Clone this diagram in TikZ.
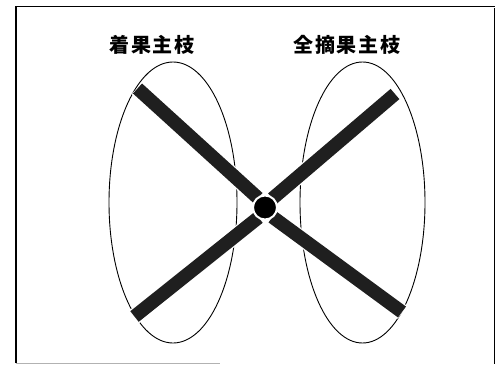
\documentclass[tikz,border=0pt]{standalone}
\usepackage{fontspec}
\newfontfamily\cjk[LetterSpace=8]{Noto Sans CJK JP}
\usetikzlibrary{shapes.geometric,calc}
\tikzset{
  frameline/.style={line width=1.5pt, black},
  oval/.style={ellipse, draw, line width=0.9pt, inner sep=0pt},
  barbg/.style={line width=16pt, white, line cap=butt},
  bar/.style={line width=13.5pt, black!88, line cap=butt},
  label/.style={font=\cjk\bfseries\fontsize{20}{20}\selectfont, inner sep=0pt},
}
\begin{document}
\begin{tikzpicture}[x=1pt,y=-1pt]
\useasboundingbox (0,0) rectangle (497,364);
% frame
\draw[frameline] (16,363) -- (16,6.5) -- (495,6.5);
\draw[frameline] (494.5,8) -- (494.5,364);
\draw[line width=1pt, black!30] (16,363) -- (220,363);
% labels
\node[label] (t1) at (152,44.5) {着果主枝};
\node[label] (t2) at (347,44.5) {全摘果主枝};
% ellipses
\node[oval, minimum width=128pt, minimum height=281pt] (L) at (173,202.5) {};
\node[oval, minimum width=125pt, minimum height=281pt] (R) at (362.5,202.5) {};
% bars
\coordinate (tlo) at (137.5,88.5);  \coordinate (tli) at (258,198);
\coordinate (tro) at (395,94);    \coordinate (tri) at (272.5,198.5);
\coordinate (blo) at (134.5,316.5);   \coordinate (bli) at (258.5,217.5);
\coordinate (bro) at (402,312);   \coordinate (bri) at (272.5,217);
\draw[barbg] ($(tlo)!-0.5pt!(tli)$) -- (tli);
\draw[bar] (tlo) -- (tli);
\draw[barbg] ($(tro)!-0.5pt!(tri)$) -- (tri);
\draw[bar] (tro) -- (tri);
\draw[barbg] ($(blo)!-0.5pt!(bli)$) -- (bli);
\draw[bar] (blo) -- (bli);
\draw[barbg] ($(bro)!-0.5pt!(bri)$) -- (bri);
\draw[bar] (bro) -- (bri);
% centre
\node[circle, fill=black, draw=white, line width=2pt, minimum size=24pt, inner sep=0pt] (c) at (265,207.5) {};
\end{tikzpicture}
\end{document}
